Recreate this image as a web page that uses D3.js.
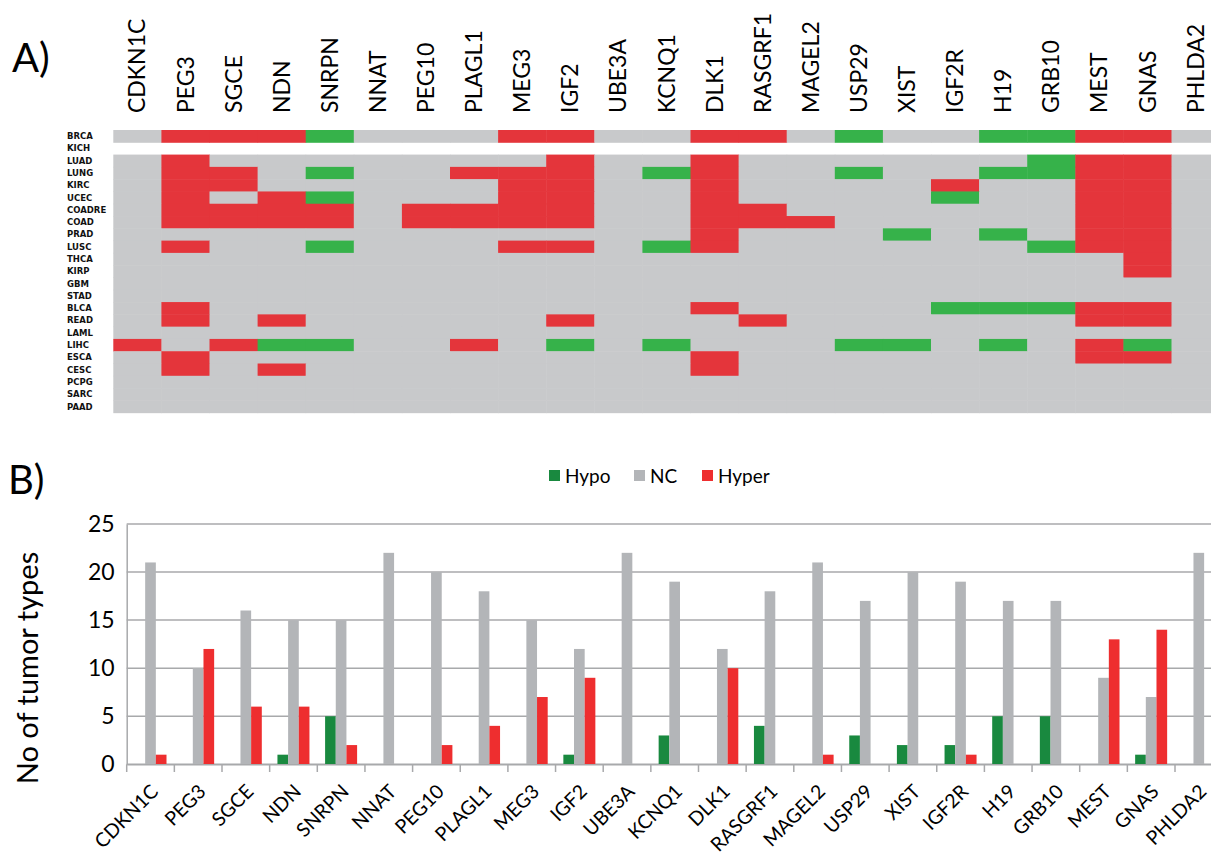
<!DOCTYPE html>
<html>
<head>
<meta charset="utf-8">
<script src="https://cdn.jsdelivr.net/npm/d3@7"></script>
<style>
  body { margin: 0; background: #fff; }
  svg { display: block; }
</style>
</head>
<body>
<div id="chart"></div>
<script>
// imprinted genes, tumor types and methylation calls
const genes = ["CDKN1C", "PEG3", "SGCE", "NDN", "SNRPN", "NNAT", "PEG10", "PLAGL1", "MEG3", "IGF2",
  "UBE3A", "KCNQ1", "DLK1", "RASGRF1", "MAGEL2", "USP29", "XIST", "IGF2R", "H19", "GRB10",
  "MEST", "GNAS", "PHLDA2"];

const tumors = ["BRCA", "KICH", "LUAD", "LUNG", "KIRC", "UCEC", "COADRE", "COAD", "PRAD", "LUSC",
  "THCA", "KIRP", "GBM", "STAD", "BLCA", "READ", "LAML", "LIHC", "ESCA", "CESC", "PCPG", "SARC", "PAAD"];

// one string per tumor, one char per gene: R = hyper, G = hypo, - = no change, . = no data
const calls = [
  "-RRRG---RR--RR-G--GGRR-",
  ".......................",
  "-R-------R--R------GRR-",
  "-RR-G--RRR-GR--G--GGRR-",
  "-RR-----RR--R----R--RR-",
  "-R-RG---RR--R----G--RR-",
  "-RRRR-RRRR--RR------RR-",
  "-RRRR-RRRR--RRR-----RR-",
  "------------R---G-G-RR-",
  "-R--G---RR-GR------GRR-",
  "---------------------R-",
  "---------------------R-",
  "-----------------------",
  "-----------------------",
  "-R----------R----GGGRR-",
  "-R-R-----R---R------RR-",
  "-----------------------",
  "R-RGG--R-G-G---GG-G-RG-",
  "-R----------R-------RR-",
  "-R-R--------R----------",
  "-----------------------",
  "-----------------------",
  "-----------------------"
];

// counts of tumor types per gene (panel B)
const hypo  = [0, 0, 0, 1, 5, 0, 0, 0, 0, 1, 0, 3, 0, 4, 0, 3, 2, 2, 5, 5, 0, 1, 0];
const nc    = [21, 10, 16, 15, 15, 22, 20, 18, 15, 12, 22, 19, 12, 18, 21, 17, 20, 19, 17, 17, 9, 7, 22];
const hyper = [1, 12, 6, 6, 2, 0, 2, 4, 7, 9, 0, 0, 10, 0, 1, 0, 0, 1, 0, 0, 13, 14, 0];

const seriesNames = ["Hypo", "NC", "Hyper"];
const yTicks = [0, 5, 10, 15, 20, 25];

const width = 1211, height = 858;
const labelFont = "Lato, 'Open Sans', sans-serif";

const svg = d3.select("#chart").append("svg")
  .attr("width", width)
  .attr("height", height);

// ---------- panel A: heatmap ----------
const heatColor = { "R": "#e4353b", "G": "#36b24a", "-": "#c8c9cb" };

const hx = d3.scaleBand().domain(genes).range([113.3, 113.3 + 48.1 * genes.length]);
const hy = d3.scaleBand().domain(tumors).range([130, 130 + 12.29 * tumors.length]);

svg.append("text")
  .attr("x", 12).attr("y", 72)
  .attr("font-family", labelFont)
  .attr("font-size", 40)
  .text("A)");

const cells = [];
tumors.forEach((t, i) => {
  calls[i].split("").forEach((c, j) => {
    if (c !== ".") cells.push({ tumor: t, gene: genes[j], call: c });
  });
});

svg.append("g").selectAll("rect")
  .data(cells)
  .join("rect")
  .attr("x", d => hx(d.gene))
  .attr("y", d => hy(d.tumor))
  .attr("width", hx.bandwidth() + 0.5)
  .attr("height", hy.bandwidth() + 0.5)
  .attr("fill", d => heatColor[d.call]);

svg.append("g").selectAll("text")
  .data(genes)
  .join("text")
  .attr("transform", d => `translate(${hx(d) + hx.bandwidth() / 2},113) rotate(-90)`)
  .attr("dy", "0.35em")
  .attr("font-family", labelFont)
  .attr("font-size", 23)
  .attr("fill", "#000")
  .text(d => d);

svg.append("g").selectAll("text")
  .data(tumors)
  .join("text")
  .attr("x", 67)
  .attr("y", d => hy(d) + hy.bandwidth() / 2)
  .attr("dy", "0.35em")
  .attr("font-family", "'DejaVu Sans', Verdana, sans-serif")
  .attr("font-weight", "bold")
  .attr("font-size", 8.5)
  .attr("fill", "#111")
  .text(d => d);

// ---------- panel B: grouped bars ----------
svg.append("text")
  .attr("x", 8).attr("y", 494)
  .attr("font-family", labelFont)
  .attr("font-size", 40)
  .text("B)");

const barColor = d3.scaleOrdinal().domain(seriesNames).range(["#19893f", "#b3b5b8", "#ee2e2f"]);

const x0 = d3.scaleBand().domain(genes).range([126.7, 126.7 + 47.65 * genes.length]);
const x1 = d3.scaleBand().domain(seriesNames).range([7.8, 39.8]);
const y = d3.scaleLinear().domain([0, 25]).range([764.3, 524]);

// gridlines
svg.append("g").selectAll("line")
  .data(yTicks)
  .join("line")
  .attr("x1", 126.7).attr("x2", width)
  .attr("y1", d => y(d)).attr("y2", d => y(d))
  .attr("stroke", "#a8a9ab")
  .attr("stroke-width", 1.5);

const yAxis = svg.append("g")
  .attr("transform", "translate(126.7,0)")
  .call(d3.axisLeft(y).tickValues(yTicks).tickSize(0).tickPadding(12));
yAxis.select(".domain").attr("stroke", "#a8a9ab").attr("stroke-width", 1.5);
yAxis.selectAll("text")
  .attr("font-family", labelFont)
  .attr("font-size", 23)
  .attr("fill", "#000");

const table = genes.map((g, i) => ({ gene: g, Hypo: hypo[i], NC: nc[i], Hyper: hyper[i] }));

svg.append("g").selectAll("g")
  .data(table)
  .join("g")
  .attr("transform", d => `translate(${x0(d.gene)},0)`)
  .selectAll("rect")
  .data(d => seriesNames.map(s => ({ key: s, value: d[s] })).filter(d => d.value > 0))
  .join("rect")
  .attr("x", d => x1(d.key))
  .attr("y", d => y(d.value))
  .attr("width", x1.bandwidth())
  .attr("height", d => y(0) - y(d.value))
  .attr("fill", d => barColor(d.key));

const xAxis = svg.append("g")
  .attr("transform", "translate(0,764.3)")
  .call(d3.axisBottom(x0).tickSize(0).tickFormat(""));
xAxis.select(".domain").attr("stroke", "#a8a9ab").attr("stroke-width", 1.5);

// tick marks between categories
svg.append("g").selectAll("line")
  .data(genes)
  .join("line")
  .attr("x1", d => x0(d)).attr("x2", d => x0(d))
  .attr("y1", 764.3).attr("y2", 772)
  .attr("stroke", "#a8a9ab")
  .attr("stroke-width", 1.5);

svg.append("g").selectAll("text")
  .data(genes)
  .join("text")
  .attr("transform", d => `translate(${x0(d) + x0.bandwidth() / 2 + 4},788) rotate(-45)`)
  .attr("text-anchor", "end")
  .attr("dy", "0.35em")
  .attr("font-family", labelFont)
  .attr("font-size", 19.5)
  .attr("fill", "#000")
  .text(d => d);

svg.append("text")
  .attr("transform", "translate(38,668) rotate(-90)")
  .attr("text-anchor", "middle")
  .attr("font-family", labelFont)
  .attr("font-size", 29)
  .text("No of tumor types");

// legend
const legendX = [549, 634, 702];
const legend = svg.append("g").selectAll("g")
  .data(seriesNames)
  .join("g")
  .attr("transform", (d, i) => `translate(${legendX[i]},470)`);
legend.append("rect")
  .attr("width", 11).attr("height", 11)
  .attr("fill", d => barColor(d));
legend.append("text")
  .attr("x", 16).attr("y", 6)
  .attr("dy", "0.35em")
  .attr("font-family", labelFont)
  .attr("font-size", 19)
  .text(d => d);
</script>
</body>
</html>
